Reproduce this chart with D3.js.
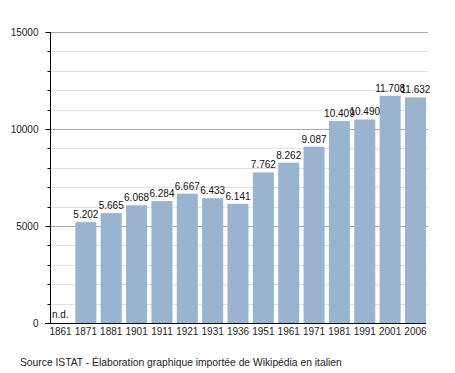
<!DOCTYPE html>
<html>
<head>
<meta charset="utf-8">
<script src="https://cdn.jsdelivr.net/npm/d3@7"></script>
<style>
  body { margin: 0; background: #fff; }
  text { font-family: "Liberation Sans", Arial, sans-serif; }
</style>
</head>
<body>
<div id="chart"></div>
<script>
var years = ["1861", "1871", "1881", "1901", "1911", "1921", "1931", "1936", "1951", "1961", "1971", "1981", "1991", "2001", "2006"];
var population = [null, 5202, 5665, 6068, 6284, 6667, 6433, 6141, 7762, 8262, 9087, 10409, 10490, 11708, 11632];
var yTicks = [0, 5000, 10000, 15000];
var source = "Source ISTAT - \u00c9laboration graphique import\u00e9e de Wikip\u00e9dia en italien";

var fmt = function(v) { return d3.format(",")(v).replace(",", "."); };

var width = 455, height = 373;
var svg = d3.select("#chart").append("svg")
    .attr("width", width)
    .attr("height", height);

var x = d3.scaleBand()
    .domain(years)
    .range([50, 426])
    .paddingInner(0.17)
    .paddingOuter(0);

var y = d3.scaleLinear()
    .domain([0, 15000])
    .range([323, 32]);

// grid lines, minor every 1000 and major every 5000
var grid = svg.append("g");
grid.selectAll("line")
    .data(d3.range(1000, 15001, 1000))
    .enter().append("line")
      .attr("x1", 50)
      .attr("x2", 428)
      .attr("y1", function(d) { return Math.round(y(d)) + 0.5; })
      .attr("y2", function(d) { return Math.round(y(d)) + 0.5; })
      .attr("stroke", function(d) { return d % 5000 == 0 ? "#a8a8a8" : "#e2e2e2"; })
      .attr("stroke-width", 1);

// bars
svg.append("g")
    .selectAll("rect")
    .data(years.filter(function(d, i) { return population[i] != null; }))
    .enter().append("rect")
      .attr("x", function(d) { return x(d); })
      .attr("width", x.bandwidth())
      .attr("y", function(d) { return y(population[years.indexOf(d)]); })
      .attr("height", function(d) { return y(0) - y(population[years.indexOf(d)]); })
      .attr("fill", "#9ab3cf");

// value labels
svg.append("g")
    .selectAll("text")
    .data(years)
    .enter().append("text")
      .attr("x", function(d, i) { return population[i] == null ? x(d) + 2 : x(d) + x.bandwidth() / 2; })
      .attr("y", function(d, i) { return population[i] == null ? y(0) - 5 : y(population[i]) - 4; })
      .attr("text-anchor", function(d, i) { return population[i] == null ? "start" : "middle"; })
      .attr("font-size", "10px")
      .attr("fill", "#111")
      .text(function(d, i) { return population[i] == null ? "n.d." : fmt(population[i]); });

// y axis
var yAxis = d3.axisLeft(y)
    .tickValues(yTicks)
    .tickSize(5)
    .tickPadding(7)
    .tickFormat(d3.format("d"));
var gy = svg.append("g")
    .attr("transform", "translate(50.5,0)")
    .call(yAxis);
gy.select(".domain").attr("stroke", "#000").attr("d", "M0," + y(15000) + "V" + y(0));
gy.selectAll("text").attr("font-size", "10px").attr("fill", "#222").attr("font-family", null);
gy.selectAll(".minor")
    .data(d3.range(1000, 15000, 1000).filter(function(d) { return d % 5000 != 0; }))
    .enter().append("line")
      .attr("class", "minor")
      .attr("x1", -3)
      .attr("x2", 0)
      .attr("y1", function(d) { return Math.round(y(d)) + 0.5; })
      .attr("y2", function(d) { return Math.round(y(d)) + 0.5; })
      .attr("stroke", "#000");

// x axis
var xAxis = d3.axisBottom(x)
    .tickSize(0)
    .tickPadding(4);
var gx = svg.append("g")
    .attr("transform", "translate(0," + (y(0) + 0.5) + ")")
    .call(xAxis);
gx.select(".domain").attr("stroke", "#000").attr("d", "M45,0H426");
gx.selectAll("text").attr("font-size", "10px").attr("fill", "#222").attr("font-family", null);

// source
svg.append("text")
    .attr("x", 20)
    .attr("y", 366)
    .attr("font-size", "10.3px")
    .attr("fill", "#222")
    .text(source);
</script>
</body>
</html>
